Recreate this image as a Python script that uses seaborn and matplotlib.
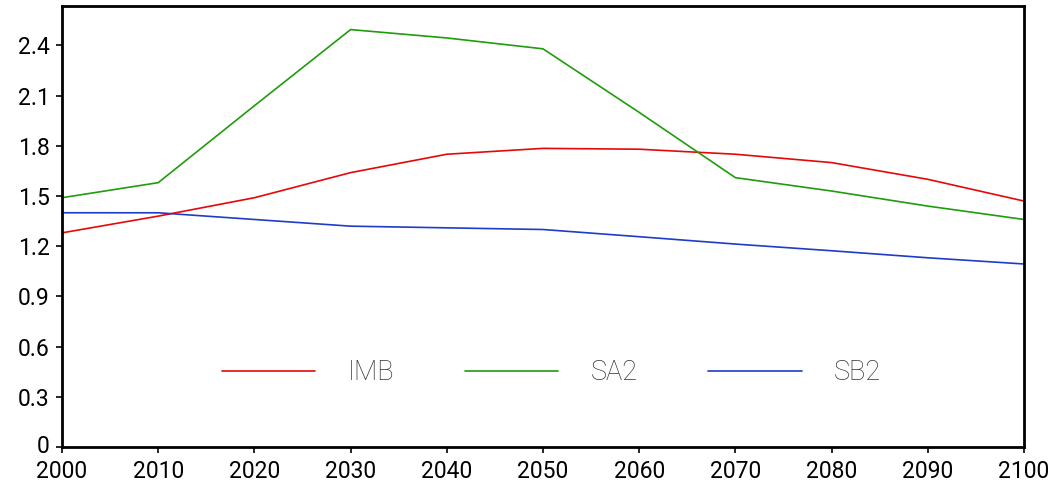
import matplotlib
matplotlib.use("Agg")
import matplotlib.pyplot as plt
import matplotlib.transforms as mtransforms
import seaborn as sns
import pandas as pd

years = [2000, 2010, 2020, 2030, 2040, 2050, 2060, 2070, 2080, 2090, 2100]
imb = [1.28, 1.38, 1.49, 1.64, 1.75, 1.785, 1.78, 1.75, 1.70, 1.60, 1.47]
sa2 = [1.49, 1.58, 2.04, 2.495, 2.445, 2.38, 2.00, 1.61, 1.53, 1.44, 1.36]
sb2 = [1.40, 1.40, 1.36, 1.32, 1.31, 1.30, 1.257, 1.213, 1.173, 1.131, 1.094]
series_names = ["IMB", "SA2", "SB2"]
series_colors = ["#e60808", "#1f9c0c", "#1e3cc8"]
y_ticks = [0, 0.3, 0.6, 0.9, 1.2, 1.5, 1.8, 2.1, 2.4]
x_ticks = list(range(2000, 2101, 10))

df = pd.concat(
    [pd.DataFrame({"year": years, "value": vals, "scenario": name})
     for name, vals in zip(series_names, [imb, sa2, sb2])],
    ignore_index=True,
)

sns.set_theme(style="white")
plt.rcParams["font.family"] = ["Roboto", "DejaVu Sans"]

fig = plt.figure(figsize=(10.56, 4.84), dpi=100)
ax = fig.add_axes([62 / 1056, 37 / 484, 962 / 1056, 441 / 484])

sns.lineplot(data=df, x="year", y="value", hue="scenario",
             palette=dict(zip(series_names, series_colors)),
             linewidth=1.2, ax=ax, legend=True)

ax.set_xlim(2000, 2100)
ax.set_ylim(0, 2.636)
ax.set_xticks(x_ticks)
ax.set_yticks(y_ticks)
ax.set_yticklabels([f"{t:g}" for t in y_ticks])
ax.set_xlabel("")
ax.set_ylabel("")

for side in ["left", "right", "top", "bottom"]:
    ax.spines[side].set_visible(True)
    ax.spines[side].set_color("black")
    ax.spines[side].set_linewidth(2.0)

ax.tick_params(axis="both", which="major", direction="out", length=4,
               width=1.2, color="black", labelsize=16.5, labelcolor="black")
ax.tick_params(axis="y", pad=5, left=True)
ax.tick_params(axis="x", pad=5, bottom=True)

# nudge the "0" label up a little so it clears the first year label
zero_lbl = ax.yaxis.get_major_ticks()[0].label1
zero_lbl.set_transform(zero_lbl.get_transform()
                       + mtransforms.ScaledTranslation(0, 2 / 72, fig.dpi_scale_trans))

leg = ax.legend(loc="center left", bbox_to_anchor=(0.155, 0.168), ncol=3,
                frameon=False, fontsize=19.5, handlelength=3.45,
                handletextpad=1.2, columnspacing=2.6, borderaxespad=0)
for line in leg.get_lines():
    line.set_linewidth(1.2)
for txt in leg.get_texts():
    txt.set_color("#333333")
    txt.set_fontweight("light")

fig.savefig("out.png", dpi=100, facecolor="white")
